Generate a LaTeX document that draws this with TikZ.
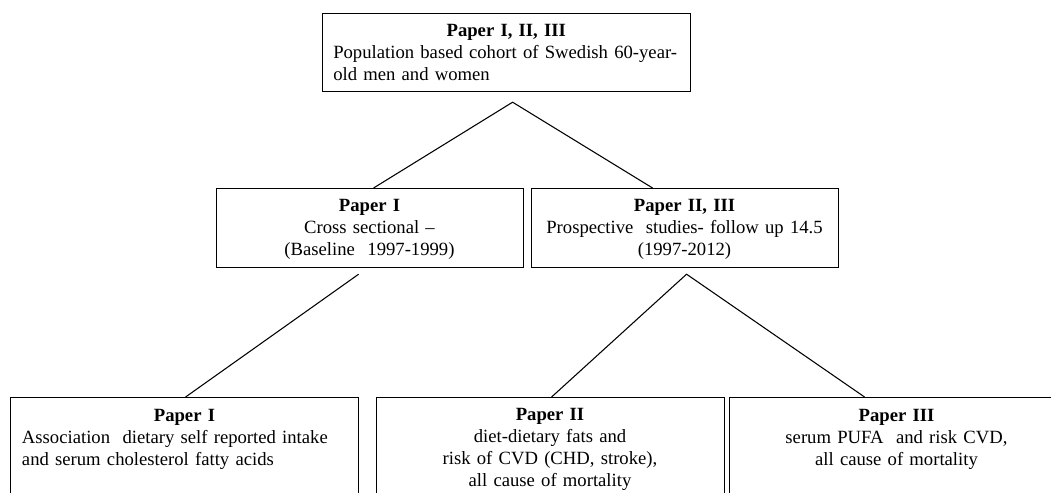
\documentclass[tikz,border=0pt]{standalone}
\usepackage{fontspec}
\setmainfont{Liberation Serif}
\usetikzlibrary{calc}
\tikzset{
  box/.style={draw=black, line width=0.9pt, rectangle, inner sep=0pt, anchor=north west},
  txt/.style={inner sep=0pt, anchor=base, font=\fontsize{14}{16.5}\selectfont},
  conn/.style={draw=black, line width=0.8pt}
}
\begin{document}
\begin{tikzpicture}[x=0.75pt,y=-0.75pt]
\useasboundingbox (0,0) rectangle (1051,493);
\clip (0,0) rectangle (1051,493);
\fill[white] (0,0) rectangle (1051,493);
% boxes
\node[box, minimum width=276pt, minimum height=58.5pt] (top) at (322,13) {};
\node[box, minimum width=230.25pt, minimum height=59.25pt] (m1) at (216,188) {};
\node[box, minimum width=230.25pt, minimum height=59.25pt] (m2) at (531,188) {};
\node[box, minimum width=261pt, minimum height=100pt] (b1) at (10,397) {};
\node[box, minimum width=261pt, minimum height=100pt] (b2) at (376,397) {};
\node[box, minimum width=251.25pt, minimum height=100pt] (b3) at (729,397) {};
% texts
\node[txt, anchor=base west, text width=259.5pt] (ttop) at (333,36)
  {\centering\textbf{Paper I, II, III}\par\raggedright Population based cohort of Swedish 60-year-\\old men and women\par};
\node[txt, text width=217pt] (tm1) at (369.5,211)
  {\centering\textbf{Paper I}\\Cross sectional --\\(Baseline~ 1997-1999)\par};
\node[txt, text width=217pt] (tm2) at (684.5,211)
  {\centering\textbf{Paper II, III}\\Prospective~ studies- follow up 14.5\\(1997-2012)\par};
\node[txt, anchor=base west, text width=243.75pt] (tb1) at (21.7,421)
  {\centering\textbf{Paper I}\par\raggedright Association~ dietary self reported intake\\and serum cholesterol fatty acids\par};
\node[txt, text width=245pt] (tb2) at (550,420)
  {\centering\textbf{Paper II}\\diet-dietary fats and\\risk of CVD (CHD, stroke),\\all cause of mortality\par};
\node[txt, text width=240pt] (tb3) at (896.5,421)
  {\centering\textbf{Paper III}\\serum PUFA~ and risk CVD,\\all cause of mortality\par};
% connectors
\coordinate (ap1) at ([xshift=4.5pt,yshift=-7.5pt]top.south);
\coordinate (ap2) at ([xshift=-8.6pt,yshift=-4.5pt]m1.south);
\coordinate (ap3) at ([xshift=1.1pt,yshift=-4.5pt]m2.south);
\draw[conn] ([xshift=2.6pt]m1.north) -- (ap1) -- ([xshift=-24.4pt]m2.north);
\draw[conn] (ap2) -- ([xshift=0.75pt]b1.north);
\draw[conn] ([xshift=0.75pt]b2.north) -- (ap3) -- ([xshift=-24.4pt]b3.north);
\end{tikzpicture}
\end{document}
